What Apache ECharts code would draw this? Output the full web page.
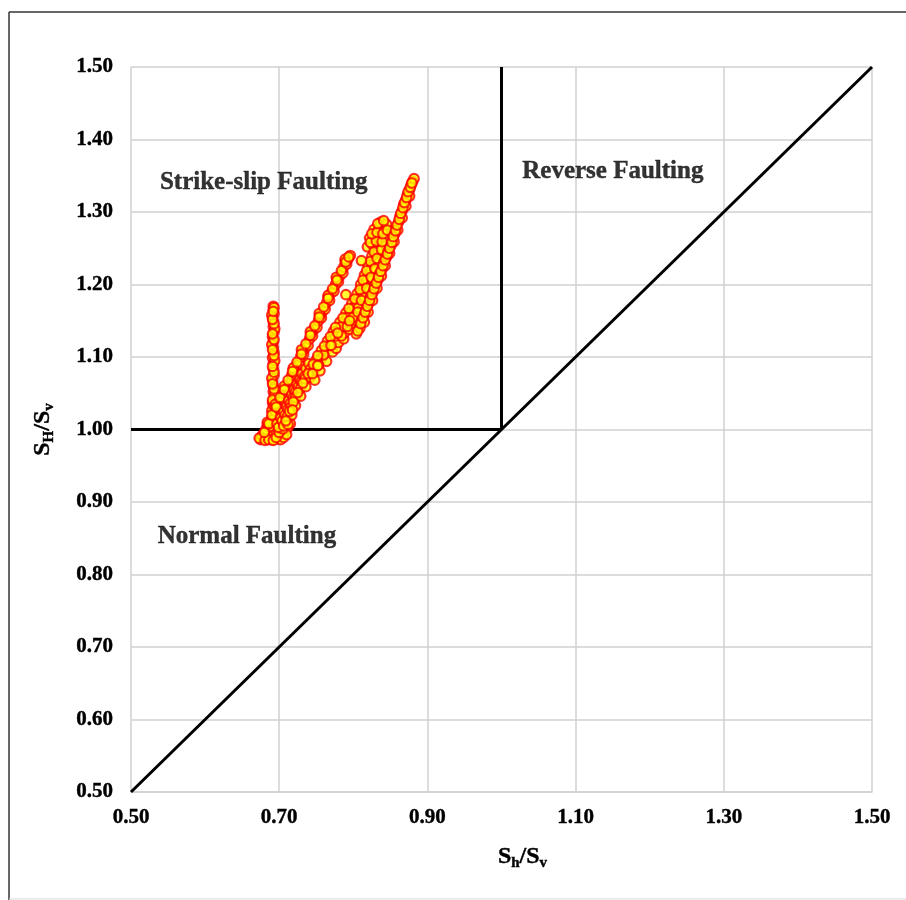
<!DOCTYPE html>
<html><head><meta charset="utf-8">
<script src="https://cdn.jsdelivr.net/npm/echarts@6/dist/echarts.min.js"></script>
<style>html,body{margin:0;padding:0;background:#fff}#c{width:906px;height:900px}</style>
</head><body><div id="c"></div>
<script>
// ---- axis settings / tick labels ----
const xMin = 0.5, xMax = 1.5, xStep = 0.2;
const yMin = 0.5, yMax = 1.5, yStep = 0.1;
const xAxisTitle = '{m|S}{s|h}{m|/S}{s|v}';
const yAxisTitle = '{m|S}{s|H}{m|/S}{s|v}';

// ---- regime boundary lines ----
const normalLineX = [0.5, 1.0];
const normalLineY = [1.0, 1.0];
const reverseLineX = [1.0, 1.0];
const reverseLineY = [1.0, 1.5];
const diagLineX = [0.5, 1.5];
const diagLineY = [0.5, 1.5];

// ---- region labels ----
const regionNames = ['Strike-slip Faulting', 'Reverse Faulting', 'Normal Faulting'];
const regionX = [0.539, 1.028, 0.536];
const regionY = [1.341, 1.356, 0.852];

// ---- measured stress ratios (Sh/Sv, SH/Sv) ----
const stackPoints = [
  [0.692,0.990],[0.691,0.996],[0.693,1.003],[0.692,1.009],[0.691,1.016],[0.693,1.022],
  [0.692,1.030],[0.691,1.037],[0.693,1.044],[0.692,1.052],[0.692,1.060],[0.691,1.067],
  [0.693,1.075],[0.692,1.083],[0.692,1.091],[0.691,1.099],[0.693,1.106],[0.692,1.113],
  [0.692,1.121],[0.691,1.128],[0.693,1.135],[0.692,1.142],[0.692,1.149],[0.691,1.155],
  [0.693,1.160],[0.692,1.165],[0.692,1.170],
  [0.694,0.999],[0.690,1.026],[0.694,1.048],[0.690,1.071],[0.694,1.095],[0.690,1.117],
  [0.694,1.139],[0.690,1.158],[0.693,1.168],
  [0.691,0.993],[0.693,1.006],[0.691,1.019],[0.693,1.033],[0.691,1.041],[0.693,1.056],
  [0.691,1.063],[0.693,1.079],[0.691,1.087],[0.693,1.102],[0.691,1.110],[0.693,1.124],
  [0.691,1.132],[0.693,1.146],[0.691,1.152],[0.692,1.163]
];
const bottomPoints = [
  [0.675,0.986],[0.679,0.988],[0.683,0.987],[0.687,0.990],[0.690,0.986],[0.694,0.988],
  [0.698,0.987],[0.677,0.992],[0.681,0.995],[0.685,0.993],[0.689,0.997],[0.696,0.993],
  [0.700,0.991],[0.704,0.994],[0.708,0.998],[0.712,1.003],[0.715,1.008],
  [0.673,0.988],[0.702,0.986],[0.706,0.989],[0.710,0.993],
  [0.681,0.985],[0.686,0.986],[0.692,0.985],[0.696,0.989],[0.700,0.996],[0.705,1.001]
];
const leftBandPoints = [
  [0.682,1.000],[0.687,1.004],[0.688,1.012],[0.693,1.015],[0.695,1.025],[0.699,1.029],
  [0.700,1.038],[0.705,1.041],[0.706,1.050],[0.710,1.054],[0.711,1.062],[0.716,1.066],
  [0.717,1.075],[0.721,1.078],[0.723,1.088],[0.727,1.091],[0.729,1.100],[0.733,1.104],
  [0.735,1.112],[0.739,1.116],[0.741,1.125],[0.745,1.129],[0.747,1.138],[0.751,1.141],
  [0.753,1.150],[0.757,1.154],[0.758,1.162],[0.762,1.166],[0.764,1.175],[0.768,1.178],
  [0.770,1.188],[0.774,1.191],[0.776,1.200],[0.780,1.204],[0.782,1.212],[0.786,1.216],
  [0.787,1.224],[0.791,1.228],[0.793,1.235],[0.796,1.240],
  [0.684,1.007],[0.697,1.033],[0.708,1.058],[0.719,1.083],[0.731,1.108],[0.743,1.133],
  [0.755,1.158],[0.766,1.183],[0.778,1.208],[0.789,1.232],
  [0.684,1.010],[0.695,1.035],[0.707,1.060],[0.719,1.085],[0.730,1.110],[0.742,1.135],
  [0.754,1.160],[0.766,1.185],[0.777,1.210],[0.789,1.235],
  [0.680,0.996],[0.686,1.008],[0.690,1.020],[0.696,1.031],[0.701,1.044],[0.707,1.055],
  [0.712,1.068],[0.718,1.080],[0.724,1.093],[0.730,1.104],[0.736,1.118],[0.742,1.130],
  [0.748,1.143],[0.754,1.155],[0.760,1.169],[0.766,1.181],[0.772,1.194],[0.778,1.206],
  [0.784,1.219],[0.790,1.231],[0.794,1.238]
];
const fillPoints = [
  [0.697,1.008],[0.702,1.016],[0.706,1.024],[0.710,1.032],[0.713,1.040],[0.717,1.048],
  [0.720,1.055],[0.724,1.062],[0.728,1.069],[0.731,1.077],[0.736,1.084],[0.740,1.091],
  [0.808,1.145],[0.813,1.160],[0.818,1.175],[0.822,1.188],[0.826,1.200],[0.831,1.214],
  [0.836,1.228],[0.840,1.240],
  [0.699,1.003],[0.704,1.012],[0.708,1.020],[0.712,1.028],[0.715,1.036],[0.719,1.044],
  [0.722,1.052],[0.726,1.059],[0.730,1.066],[0.734,1.073]
];
const middleBandPoints = [
  [0.706,1.005],[0.712,1.007],[0.711,1.018],[0.717,1.020],[0.716,1.031],[0.722,1.033],
  [0.722,1.044],[0.729,1.046],[0.729,1.057],[0.736,1.059],
  [0.735,1.070],[0.742,1.072],[0.748,1.068],[0.742,1.083],[0.749,1.085],[0.755,1.081],
  [0.750,1.096],[0.757,1.098],[0.764,1.094],
  [0.757,1.109],[0.764,1.111],[0.772,1.107],[0.777,1.112],
  [0.765,1.122],[0.772,1.124],[0.780,1.120],[0.787,1.125],
  [0.773,1.135],[0.780,1.137],[0.788,1.133],[0.795,1.138],
  [0.782,1.148],[0.789,1.150],[0.797,1.146],[0.803,1.151],
  [0.790,1.161],[0.797,1.163],[0.804,1.159],[0.810,1.164],
  [0.798,1.174],[0.805,1.176],[0.812,1.172],[0.817,1.177],
  [0.805,1.187],[0.812,1.189],[0.819,1.185],
  [0.810,1.200],[0.817,1.202],[0.823,1.198],
  [0.815,1.213],[0.822,1.215],[0.828,1.211],
  [0.820,1.226],[0.827,1.228],[0.833,1.224],
  [0.825,1.239],[0.831,1.241],[0.837,1.237],
  [0.819,1.252],[0.826,1.255],[0.833,1.251],[0.840,1.254],
  [0.822,1.264],[0.829,1.267],[0.836,1.263],[0.843,1.266],
  [0.828,1.276],[0.835,1.279],[0.842,1.274],[0.837,1.286],[0.845,1.283],
  [0.760,1.103],[0.768,1.116],[0.776,1.129],[0.784,1.142],[0.792,1.155],[0.801,1.168],
  [0.808,1.181],[0.814,1.194],[0.819,1.207],[0.824,1.220],[0.829,1.233],[0.834,1.246],
  [0.784,1.129],[0.792,1.142],[0.800,1.155],[0.807,1.168],[0.815,1.183],[0.821,1.192],
  [0.826,1.206],[0.830,1.219],[0.835,1.231],
  [0.709,1.012],[0.714,1.025],[0.719,1.038],[0.725,1.051],[0.732,1.064],[0.739,1.077],
  [0.746,1.090],[0.753,1.089],[0.752,1.102],[0.761,1.115],[0.769,1.128],[0.776,1.141],
  [0.786,1.154],[0.794,1.167],[0.802,1.180],[0.809,1.193],[0.813,1.206],[0.818,1.219],
  [0.823,1.232],[0.828,1.245],
  [0.745,1.077],[0.752,1.088],[0.770,1.116],[0.779,1.133],[0.795,1.150],[0.806,1.162],
  [0.811,1.178],[0.818,1.195],[0.824,1.210],[0.829,1.222],[0.832,1.236],[0.838,1.248],
  [0.823,1.258],[0.831,1.260],[0.839,1.259],[0.825,1.270],[0.832,1.272],[0.840,1.270],
  [0.846,1.275],[0.833,1.284],[0.841,1.288]
];
const rightBandPoints = [
  [0.804,1.132],[0.809,1.140],[0.811,1.150],[0.815,1.158],[0.817,1.166],[0.821,1.174],
  [0.823,1.182],[0.827,1.190],[0.829,1.198],[0.833,1.206],[0.835,1.214],[0.839,1.222],
  [0.841,1.230],[0.845,1.238],[0.847,1.246],[0.851,1.254],[0.853,1.262],[0.856,1.270],
  [0.858,1.278],[0.861,1.286],[0.863,1.294],[0.866,1.302],[0.868,1.310],[0.871,1.317],
  [0.873,1.324],[0.876,1.331],[0.878,1.337],[0.880,1.342],[0.882,1.346],
  [0.815,1.148],[0.820,1.162],[0.826,1.178],[0.832,1.195],[0.838,1.212],[0.843,1.226],
  [0.849,1.243],[0.855,1.259],[0.860,1.275],[0.866,1.292],[0.871,1.308],[0.876,1.322],
  [0.806,1.136],[0.810,1.146],[0.813,1.154],[0.816,1.162],[0.819,1.170],[0.822,1.178],
  [0.825,1.186],[0.828,1.194],[0.831,1.202],[0.834,1.210],[0.837,1.218],[0.840,1.226],
  [0.843,1.234],[0.846,1.242],[0.849,1.250],[0.852,1.258],[0.854,1.266],[0.857,1.274],
  [0.859,1.282],[0.862,1.290],[0.864,1.298],[0.867,1.306],[0.869,1.313],[0.872,1.320],
  [0.874,1.328],[0.877,1.334],[0.879,1.340]
];
const outlierPoints = [[0.718,1.027],[0.790,1.186],[0.811,1.233]];

const FONT = '"Liberation Serif", "Times New Roman", serif';

function zip(xs, ys) { return xs.map((x, i) => [x, ys[i]]); }

const chart = echarts.init(document.getElementById('c'), null, {renderer: 'canvas'});

const markerStyle = { color: '#FFFF00', borderColor: '#FF0000', borderWidth: 2.2 };
const lineStyle = { color: '#000000', width: 3 };
const boldText = { fontFamily: FONT, fontWeight: 'bold', color: '#000', textBorderColor: '#000', textBorderWidth: 0.4 };

const allPoints = [].concat(stackPoints, bottomPoints, leftBandPoints, fillPoints, middleBandPoints, rightBandPoints, outlierPoints);

const titleRich = {
  m: Object.assign({ fontSize: 24, lineHeight: 28 }, boldText),
  s: Object.assign({ fontSize: 15, lineHeight: 9, verticalAlign: 'bottom' }, boldText)
};

chart.setOption({
  animation: false,
  backgroundColor: '#ffffff',
  grid: { left: 131, right: 34, top: 67, bottom: 108, containLabel: false },
  xAxis: {
    type: 'value', min: xMin, max: xMax, interval: xStep,
    name: xAxisTitle, nameLocation: 'middle', nameGap: 51,
    nameTextStyle: { padding: [0, 0, 0, 42], rich: titleRich },
    axisLine: { show: true, lineStyle: { color: '#d0d0d0', width: 1.5 } },
    axisTick: { show: false },
    splitLine: { show: true, lineStyle: { color: '#d0d0d0', width: 1.5 } },
    axisLabel: Object.assign({ fontSize: 21, margin: 15, formatter: v => v.toFixed(2) }, boldText)
  },
  yAxis: {
    type: 'value', min: yMin, max: yMax, interval: yStep,
    name: yAxisTitle, nameLocation: 'middle', nameGap: 74, nameRotate: 90,
    nameTextStyle: { rich: titleRich },
    axisLine: { show: false },
    axisTick: { show: false },
    splitLine: { show: true, lineStyle: { color: '#d0d0d0', width: 1.5 } },
    axisLabel: Object.assign({ fontSize: 21, margin: 18, formatter: v => v.toFixed(2) }, boldText)
  },
  graphic: [
    { type: 'line', shape: { x1: 9, y1: 12, x2: 9, y2: 900 }, style: { stroke: '#333', lineWidth: 1.5 }, z: 100 },
    { type: 'line', shape: { x1: 9, y1: 12, x2: 906, y2: 12 }, style: { stroke: '#333', lineWidth: 1.5 }, z: 100 },
    { type: 'line', shape: { x1: 9, y1: 899, x2: 906, y2: 899 }, style: { stroke: '#d8d8d8', lineWidth: 1 }, z: 100 }
  ],
  series: [
    { type: 'line', data: zip(diagLineX, diagLineY), symbol: 'none', lineStyle: lineStyle, z: 2, silent: true },
    { type: 'line', data: zip(normalLineX, normalLineY), symbol: 'none', lineStyle: lineStyle, z: 2, silent: true },
    { type: 'line', data: zip(reverseLineX, reverseLineY), symbol: 'none', lineStyle: lineStyle, z: 2, silent: true },
    { type: 'scatter', data: allPoints, symbol: 'circle', symbolSize: 9.5, itemStyle: markerStyle, z: 5, large: false },
    {
      type: 'scatter', symbolSize: 0, z: 6, silent: true,
      data: regionNames.map((n, i) => ({ name: n, value: [regionX[i], regionY[i]] })),
      label: Object.assign({ show: true, position: [0, 0], align: 'left', verticalAlign: 'middle',
        formatter: p => p.name, fontSize: 25 }, boldText)
    }
  ]
});
</script>
</body></html>
